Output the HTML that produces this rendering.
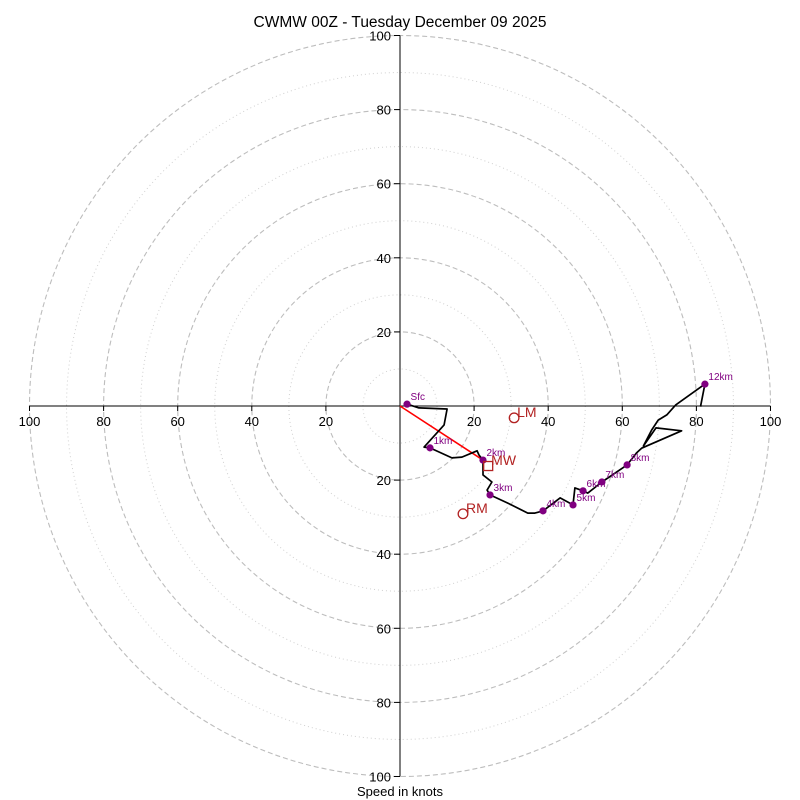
<!DOCTYPE html>
<html><head><meta charset="utf-8"><style>
html,body{margin:0;padding:0;background:#fff;}
svg{display:block;font-family:"Liberation Sans","DejaVu Sans",sans-serif;}
</style></head><body>
<svg id="chart" width="800" height="800" viewBox="0 0 800 800">
<text x="400" y="27" text-anchor="middle" font-size="15.5">CWMW 00Z - Tuesday December 09 2025</text>
<g id="rings"></g>
<g id="axes"></g>
<g id="trace"></g>
<text x="400" y="796" text-anchor="middle" font-size="13">Speed in knots</text>
</svg>
<script>
const uKts = [1.9,5.1,12.7,11.9,6.5,8.1,14.0,16.7,20.8,21.3,22.4,22.4,24.8,23.5,24.3,29.1,34.5,36.4,38.6,43.2,46.7,47.2,49.4,50.7,54.5,61.3,63.9,65.2,76.0,69.1,65.7,67.9,69.7,72.0,74.4,82.3,81.1];
const vKts = [0.5,-0.5,-0.8,-5.1,-11.1,-11.3,-14.0,-13.8,-12.1,-13.2,-14.6,-18.6,-20.5,-22.7,-24.0,-26.2,-28.9,-28.9,-28.3,-24.8,-26.7,-22.1,-22.9,-23.5,-20.5,-15.9,-12.6,-11.4,-6.7,-5.9,-10.8,-6.5,-3.8,-2.4,0.3,5.9,-0.2];
const levelIdx = [0,5,10,14,18,20,22,24,25,35];
const levelLabels = ["Sfc","1km","2km","3km","4km","5km","6km","7km","8km","12km"];
const motionNames = ["LM","MW","RM"];
const motionU = [30.8,23.8,17.0];
const motionV = [-3.2,-16.2,-29.1];
const ringVals = [10,20,30,40,50,60,70,80,90,100];
const tickVals = [20,40,60,80,100];

const NS="http://www.w3.org/2000/svg";
const cx=400, cy=406, scale=3.705;
const X=u=>cx+u*scale, Y=v=>cy-v*scale, R=s=>s*scale;
function mk(tag,attrs,parent){const e=document.createElementNS(NS,tag);for(const k in attrs)e.setAttribute(k,attrs[k]);parent.appendChild(e);return e;}
const rings=document.getElementById('rings'), axes=document.getElementById('axes'), trace=document.getElementById('trace');

ringVals.forEach(r=>{
  const major = r%20===0;
  const c=mk('circle',{cx:cx,cy:cy,r:R(r),fill:'none',stroke:major?'#bdbdbd':'#d0d0d0','stroke-width':major?1.1:1,'stroke-dasharray':major?'5,3':'1,3'},rings);
  
  
});
let l=mk('line',{x1:X(-100),y1:cy,x2:X(100),y2:cy,stroke:'#000','stroke-width':1},axes);


l=mk('line',{x1:cx,y1:Y(100),x2:cx,y2:Y(-100),stroke:'#000','stroke-width':1},axes);


tickVals.forEach(t=>{
  [t,-t].forEach(s=>{
    mk('line',{x1:X(s),y1:cy,x2:X(s),y2:cy+5,stroke:'#000'},axes);
    const tx=mk('text',{x:X(s),y:cy+20,'text-anchor':'middle','font-size':13},axes);
    tx.textContent=t;
    
    
    mk('line',{x1:cx-6,y1:Y(s),x2:cx,y2:Y(s),stroke:'#000'},axes);
    const ty=mk('text',{x:cx-9,y:Y(s)+5,'text-anchor':'end','font-size':13},axes);
    ty.textContent=t;
    
    
  });
});
const sl=mk('line',{x1:cx,y1:cy,x2:X(uKts[levelIdx[2]]),y2:Y(vKts[levelIdx[2]]),stroke:'#ff0000','stroke-width':1.6},trace);


const pts=uKts.map((u,i)=>X(u).toFixed(1)+','+Y(vKts[i]).toFixed(1)).join(' ');
const pl=mk('polyline',{points:pts,fill:'none',stroke:'#000','stroke-width':1.7,'stroke-linejoin':'round'},trace);


levelIdx.forEach((idx,i)=>{
  const d=mk('circle',{cx:X(uKts[idx]),cy:Y(vKts[idx]),r:3.6,fill:'#800080'},trace);
  
  
  const t=mk('text',{x:X(uKts[idx])+3.5,y:Y(vKts[idx])-4,'font-size':10,fill:'#800080'},trace);
  t.textContent=levelLabels[i];
  
  
});
motionNames.forEach((n,i)=>{
  const x=X(motionU[i]), y=Y(motionV[i]);
  let m;
  if(n==='MW') m=mk('rect',{x:x-4.5,y:y-4.5,width:9,height:9,fill:'none',stroke:'#b22222','stroke-width':1.3},trace);
  else m=mk('circle',{cx:x,cy:y,r:4.8,fill:'none',stroke:'#b22222','stroke-width':1.3},trace);
  
  
  const t=mk('text',{x:x+3,y:y-1,'font-size':14,fill:'#b22222'},trace);
  t.textContent=n;
  
  
});
</script>
</body></html>
